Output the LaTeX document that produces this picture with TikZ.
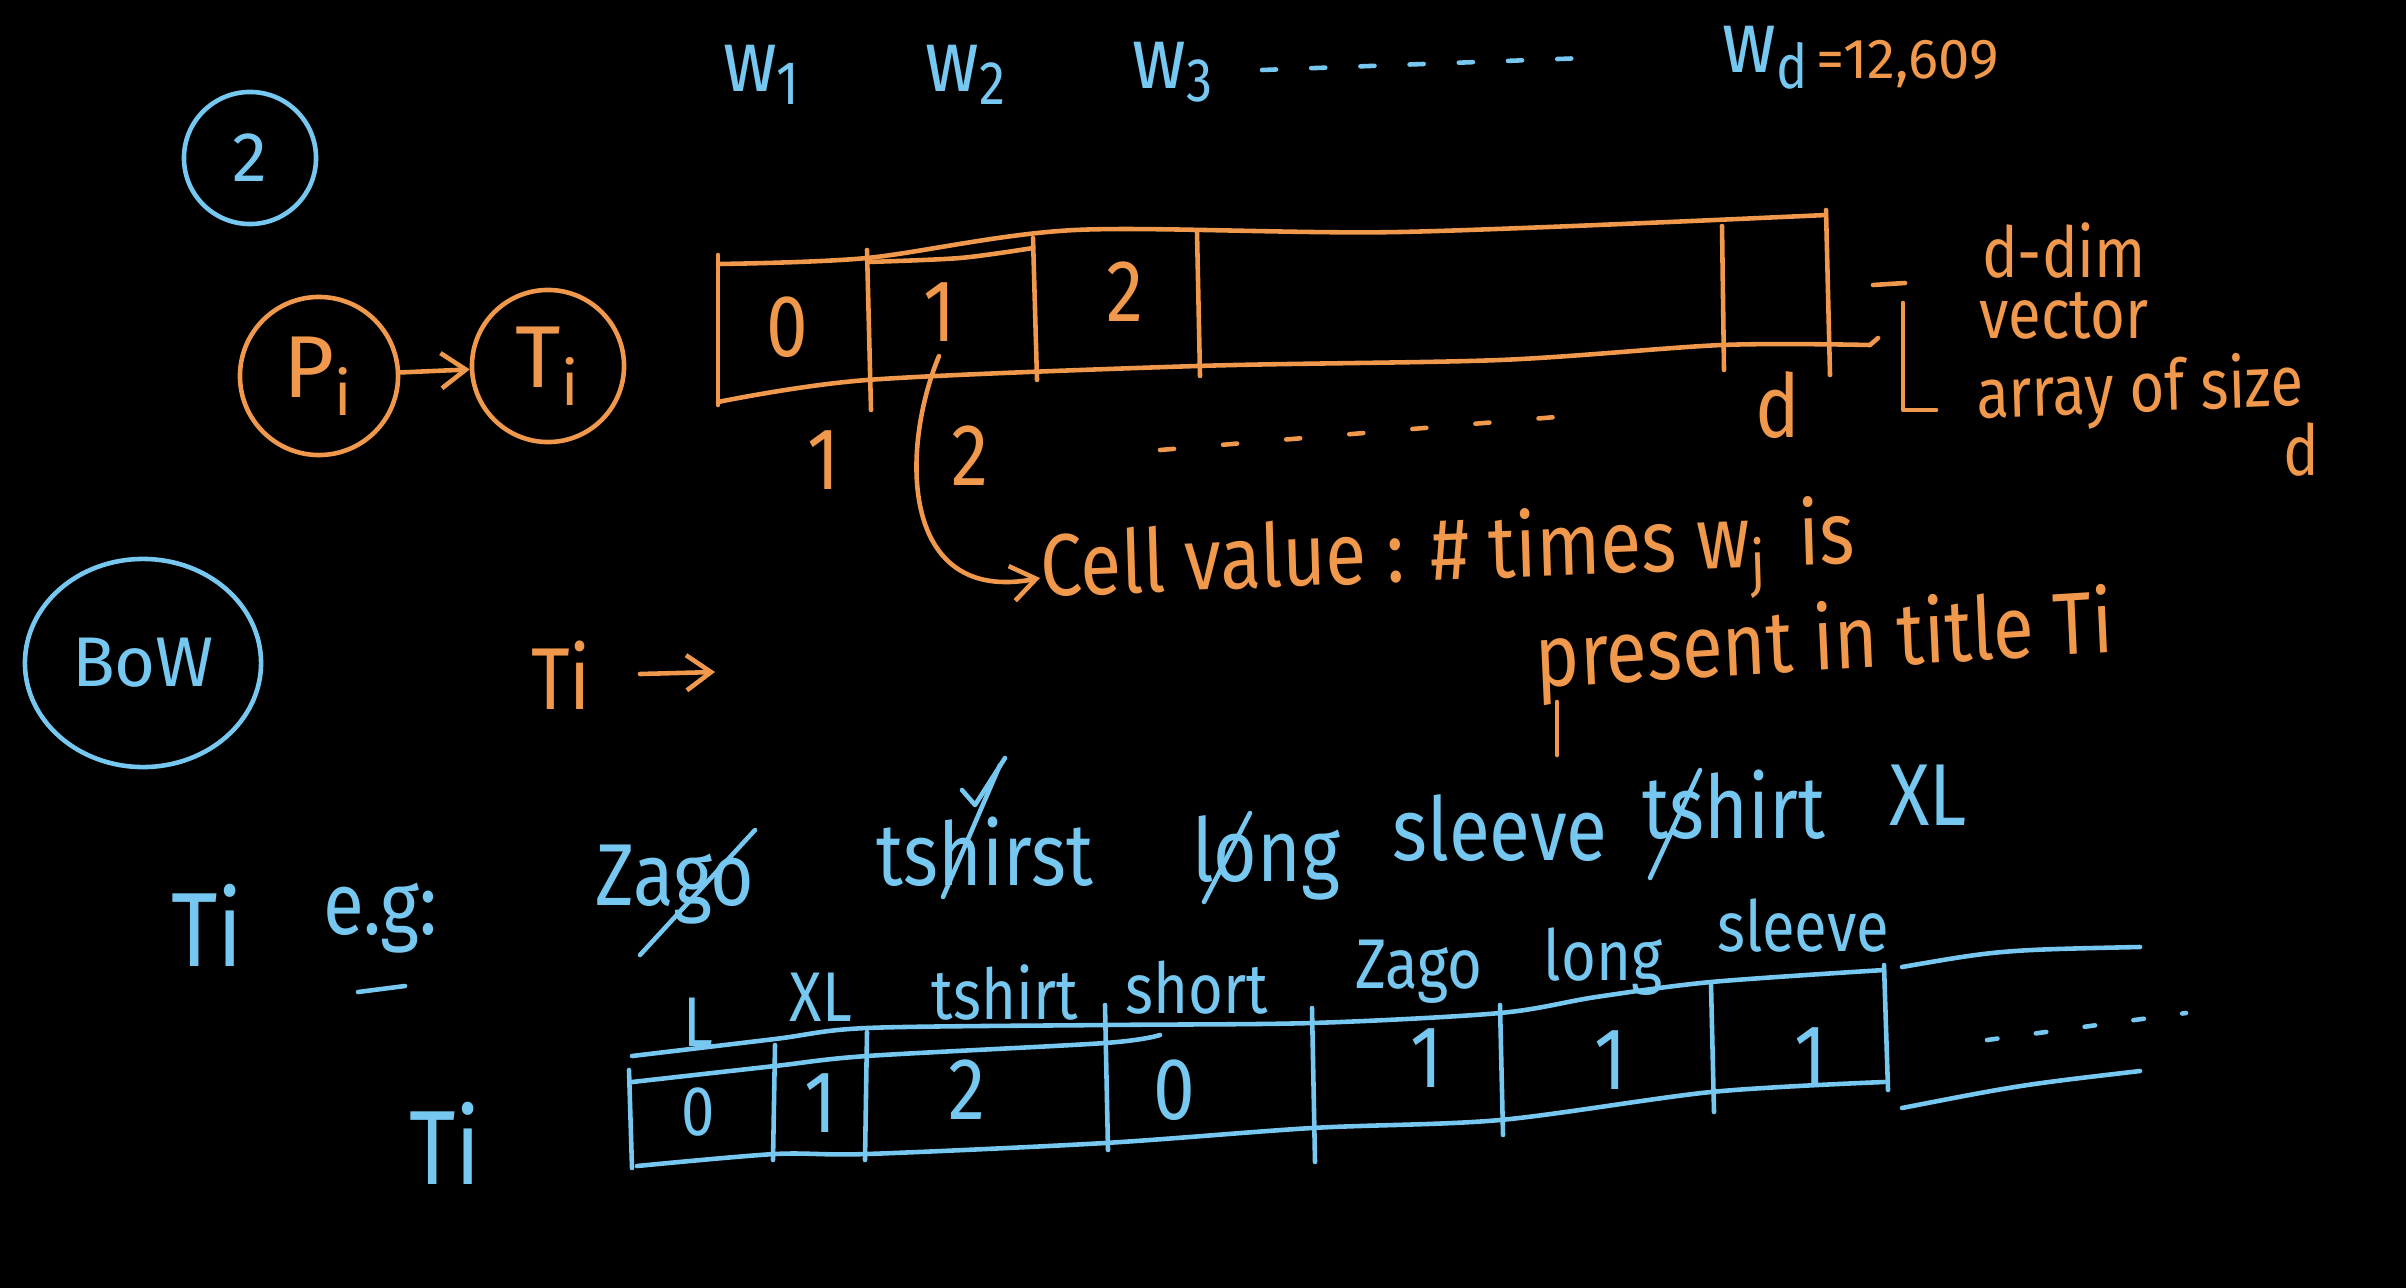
\documentclass[tikz,border=0pt]{standalone}
\usepackage{fontspec}
\setmainfont{Fira Sans}
\usetikzlibrary{arrows.meta,shapes.geometric}
\definecolor{orangeink}{RGB}{240,152,76}
\definecolor{blueink}{RGB}{118,200,240}
\newcommand\hwbig{\fontsize{30}{34}\selectfont}
\newcommand\hwfont{\fontsize{25}{29}\selectfont}
\newcommand\hwsmall{\fontsize{20}{24}\selectfont}
\newcommand\hwtiny{\fontsize{16}{18}\selectfont}
\tikzset{
  ora/.style={draw=orangeink, line width=1.3pt, line cap=round, line join=round},
  blu/.style={draw=blueink, line width=1.3pt, line cap=round, line join=round},
  otext/.style={text=orangeink, font=\hwfont, inner sep=1pt, xscale=.85},
  btext/.style={text=blueink, font=\hwfont, inner sep=1pt, xscale=.85},
  ring/.style={circle, line width=1.3pt, inner sep=0pt},
  barb/.style={-{Straight Barb[length=7pt,width=10pt]}}
}
\begin{document}
\begin{tikzpicture}[x=0.01cm,y=-0.01cm]
\fill[black] (0,0) rectangle (2406,1288);
\useasboundingbox (0,0) rectangle (2406,1288);

% words of the vocabulary
\node[btext] (w1) at (762,75) {w\textsubscript{1}};
\node[btext] (w2) at (966,75) {w\textsubscript{2}};
\node[btext] (w3) at (1173,72) {w\textsubscript{3}};
\draw[blu, dash pattern=on 4pt off 10pt] (1262,70) -- (1585,58);
\node[btext] (wd) at (1766,58) {w\textsubscript{d}};
\node[font=\hwtiny, text=orangeink, inner sep=1pt, anchor=west] (wdval) at (1812,64) {\color{orangeink}=12,609};

% left circles
\node[ring, draw=blueink, minimum size=1.32cm, text=blueink, font=\hwsmall] (two) at (250,158) {2};
\node[ring, draw=orangeink, minimum size=1.58cm, text=orangeink, font=\hwfont] (pi) at (319,376) {P\textsubscript{i}};
\node[ring, draw=orangeink, minimum size=1.52cm, text=orangeink, font=\hwfont] (ti) at (548,366) {T\textsubscript{i}};
\draw[ora, barb] (pi) -- (ti);
\node[ellipse, draw=blueink, line width=1.3pt, inner sep=0pt, minimum width=2.36cm, minimum height=2.08cm, text=blueink, font=\hwsmall] (bow) at (143,663) {BoW};

\node[otext] (tib) at (561,675) {Ti};
\coordinate (tibstart) at (640,674);
\coordinate (tibend) at (715,672);
\draw[ora, barb] (tibstart) -- (tibend);

% d-dim array
\draw[ora] plot[smooth, tension=.5] coordinates {(718,264) (867,258) (1075,230) (1400,232) (1826,215)};
\draw[ora] plot[smooth, tension=.5] coordinates {(867,262) (960,258) (1033,248)};
\draw[ora] plot[smooth, tension=.5] coordinates {(718,402) (867,380) (1197,366) (1500,360) (1722,345) (1870,345)};
\draw[ora] (1870,345) -- (1878,338);
\draw[ora] (718,255) -- (718,405);
\draw[ora] (867,250) -- (871,410);
\draw[ora] (1033,238) -- (1037,380);
\draw[ora] (1197,232) -- (1200,376);
\draw[ora] (1722,226) -- (1724,370);
\draw[ora] (1826,210) -- (1830,375);
\node[otext] (c0) at (787,327) {0};
\node[otext] (c1) at (940,312) {1};
\node[otext] (c2) at (1125,292) {2};
\node[otext] (cd) at (1778,405) {d};
\node[otext] (i1) at (824,460) {1};
\node[otext] (i2) at (970,456) {2};
\draw[ora, dash pattern=on 4pt off 14pt] (1160,450) -- (1580,415);

% bracket and its note
\draw[ora] (1873,285) -- (1905,283);
\draw[ora] (1903,303) -- (1903,410) -- (1936,410);
\node[otext, font=\hwsmall, inner sep=0pt] (ddim) at (2064,250) {d-dim};
\node[otext, font=\hwsmall, inner sep=0pt] (vec) at (2064,316) {vector};
\node[otext, font=\hwsmall, inner sep=0pt, rotate=2] (arr) at (2140,392) {array of size};
\node[otext, font=\hwsmall, inner sep=0pt] (dd) at (2301,450) {d};

% cell value note
\coordinate (cellone) at (939,356);
\node[otext, anchor=west, rotate=2, inner sep=0pt] (cv) at (1040,578) {Cell value : \# times w\textsubscript{j}\, is};
\node[otext, anchor=west, rotate=3, inner sep=0pt] (pres) at (1535,663) {present in title Ti};
\draw[ora, barb] (cellone) .. controls (900,450) and (900,605) .. (cv.west);
\draw[ora] (1557,702) -- (1557,755);

% example title
\node[btext, font=\hwbig] (tie) at (207,925) {Ti};
\node[btext] (eg) at (380,918) {e.g:};
\draw[blu] (358,992) -- (405,986);
\node[btext] (zago) at (675,885) {Zago};
\node[btext] (tshirst) at (985,852) {tshirst};
\node[btext] (long) at (1266,858) {long};
\node[btext] (sleeve) at (1500,828) {sleeve};
\node[btext] (tshirt) at (1734,805) {tshirt};
\node[btext] (xl) at (1928,795) {XL};
\draw[blu] (640,955) -- (755,830);
\draw[blu] (943,897) -- (1000,765);
\draw[blu] (962,790) -- (975,805) -- (1005,758);
\draw[blu] (1204,902) -- (1250,813);
\draw[blu] (1650,878) -- (1700,770);

% BoW vector of the title
\node[btext, font=\hwbig] (tiv) at (445,1143) {Ti};
\node[btext, font=\hwsmall] (lL) at (698,1022) {L};
\node[btext, font=\hwsmall] (lXL) at (821,997) {XL};
\node[btext, font=\hwsmall] (ltshirt) at (1005,992) {tshirt};
\node[btext, font=\hwsmall] (lshort) at (1197,988) {short};
\node[btext, font=\hwsmall] (lzago) at (1419,972) {Zago};
\node[btext, font=\hwsmall] (llong) at (1603,962) {long};
\node[btext, font=\hwsmall] (lsleeve) at (1803,926) {sleeve};
\draw[blu] plot[smooth, tension=.5] coordinates {(632,1056) (775,1039) (867,1028) (1105,1025) (1312,1023) (1500,1013) (1596,997) (1711,982) (1884,970)};
\draw[blu] plot[smooth, tension=.5] coordinates {(632,1082) (775,1066) (867,1056) (1105,1043) (1160,1035)};
\draw[blu] plot[smooth, tension=.5] coordinates {(637,1166) (775,1154) (867,1154) (1105,1143) (1312,1128) (1500,1120) (1711,1092) (1884,1082)};
\draw[blu] (629,1070) -- (632,1168);
\draw[blu] (775,1045) -- (773,1160);
\draw[blu] (867,1032) -- (865,1160);
\draw[blu] (1105,1005) -- (1108,1150);
\draw[blu] (1312,1008) -- (1315,1162);
\draw[blu] (1500,1005) -- (1503,1135);
\draw[blu] (1711,985) -- (1714,1112);
\draw[blu] (1884,965) -- (1888,1090);
\node[btext, font=\hwsmall] (v1) at (698,1112) {0};
\node[btext] (v2) at (821,1103) {1};
\node[btext] (v3) at (967,1090) {2};
\node[btext] (v4) at (1174,1090) {0};
\node[btext] (v5) at (1427,1058) {1};
\node[btext] (v6) at (1611,1060) {1};
\node[btext] (v7) at (1811,1057) {1};
\draw[blu] (1902,967) .. controls (2000,950) .. (2140,947);
\draw[blu] (1902,1108) .. controls (2020,1085) .. (2140,1071);
\draw[blu, dash pattern=on 3pt off 11pt] (1987,1040) -- (2186,1013);
\end{tikzpicture}
\end{document}
